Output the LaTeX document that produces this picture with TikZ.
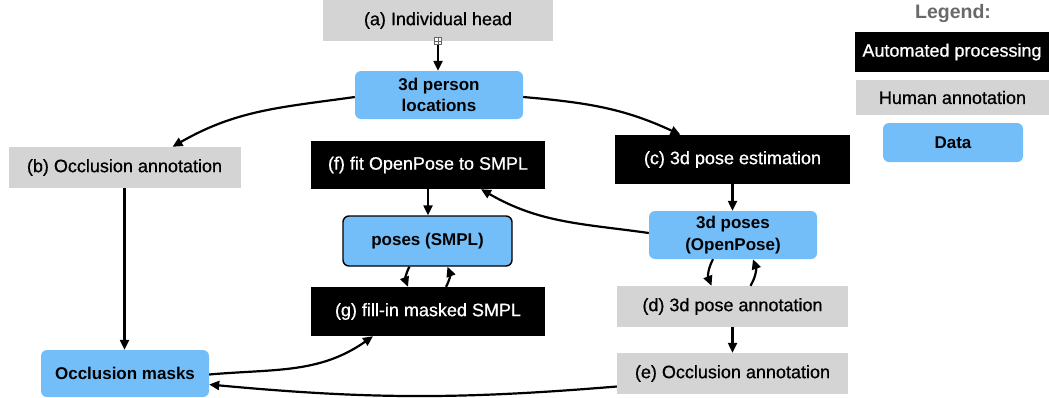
\documentclass[tikz,border=0pt]{standalone}
\usepackage{fontspec}
\setmainfont{Liberation Sans}
\newfontfamily\medfont{Liberation Sans}[FakeBold=0.7]
\usetikzlibrary{arrows.meta}
\definecolor{datablue}{RGB}{115,190,249}
\definecolor{humangray}{RGB}{212,212,212}
\definecolor{legendgray}{RGB}{105,105,105}

\begin{document}
\begin{tikzpicture}[x=1pt,y=1pt,
  box/.style={inner sep=0pt, align=center, font=\medfont\fontsize{18}{21}\selectfont},
  humanbox/.style={box, fill=humangray},
  autobox/.style={box, fill=black, text=white},
  databox/.style={box, fill=datablue, rounded corners=6pt, font=\fontsize{17}{21.5}\bfseries\selectfont},
  handlebox/.style={draw=black!60, fill=white, line width=0.6pt, minimum size=7pt, inner sep=0pt,
    path picture={\draw[black!60, line width=0.6pt]
      (path picture bounding box.north) -- (path picture bounding box.south)
      (path picture bounding box.west) -- (path picture bounding box.east);}},
  flow/.style={-{Triangle[length=10pt,width=9pt]}, line width=2.2pt},
]
\useasboundingbox (0,-397) rectangle (1049,0);
% steps
\node[humanbox, minimum width=230pt, minimum height=41pt] (a) at (438,-20.5) {(a) Individual head};
\node[handlebox] (handle) at (438,-41) {};
\node[databox, minimum width=168pt, minimum height=48pt] (loc) at (439,-95) {3d person\\locations};
\node[humanbox, minimum width=232pt, minimum height=41pt] (b) at (124.5,-167.5) {(b) Occlusion annotation};
\node[autobox, minimum width=234pt, minimum height=48pt] (f) at (428,-165) {(f) fit OpenPose to SMPL};
\node[autobox, minimum width=235pt, minimum height=49pt] (c) at (732.5,-159.5) {(c) 3d pose estimation};
\node[databox, minimum width=168pt, minimum height=48pt] (opp) at (733,-235) {3d poses\\(OpenPose)};
\node[databox, draw=black, line width=1.4pt, minimum width=169pt, minimum height=50pt] (smpl) at (427.5,-241) {poses (SMPL)};
\node[autobox, minimum width=234pt, minimum height=49pt] (g) at (428,-311.5) {(g) fill-in masked SMPL};
\node[humanbox, minimum width=231pt, minimum height=41pt] (d) at (732.5,-306.5) {(d) 3d pose annotation};
\node[humanbox, minimum width=231pt, minimum height=41pt] (e) at (732.5,-373.5) {(e) Occlusion annotation};
\node[databox, minimum width=168pt, minimum height=47pt] (masks) at (125,-373.5) {Occlusion masks};
% legend
\node[font=\fontsize{19.5}{22}\bfseries\selectfont, text=legendgray] (legend) at (953,-13) {Legend:};
\node[autobox, minimum width=194pt, minimum height=40pt] (legauto) at (952,-52) {Automated processing};
\node[humanbox, minimum width=193pt, minimum height=35pt] (leghuman) at (952.5,-97.5) {Human annotation};
\node[databox, minimum width=140pt, minimum height=39pt] (legdata) at (953,-142.5) {Data};
% arrows
\draw[flow] (handle.south) -- (handle |- loc.north);
\draw[flow] ([yshift=-2pt]loc.west) to[out=188, in=30] ([xshift=48pt]b.north);
\draw[flow] ([yshift=-2pt]loc.east) to[out=-5, in=155] ([xshift=-52pt]c.north);
\draw[flow] (b.south) -- (b |- masks.north);
\draw[flow] (c.south) -- (c |- opp.north);
\draw[flow] ([yshift=2pt]opp.west) to[out=172, in=-30] ([xshift=53pt]f.south);
\draw[flow] (f.south) -- (f |- smpl.north);
\draw[flow] ([xshift=-18pt]smpl.south) to[bend right=25] ([xshift=-20pt]g.north);
\draw[flow] ([xshift=18pt]g.north) to[bend right=25] ([xshift=20pt]smpl.south);
\draw[flow] ([xshift=-20pt]opp.south) to[bend right=25] ([xshift=-21pt]d.north);
\draw[flow] ([xshift=18pt]d.north) to[bend right=25] ([xshift=20pt]opp.south);
\draw[flow] (d.south) -- (d |- e.north);
\draw[flow] ([yshift=-1pt]masks.east) to[out=5, in=215] ([xshift=-55pt]g.south);
\draw[flow] ([yshift=-13pt]e.west) to[bend left=5] ([yshift=-11pt]masks.east);
\end{tikzpicture}
\end{document}
